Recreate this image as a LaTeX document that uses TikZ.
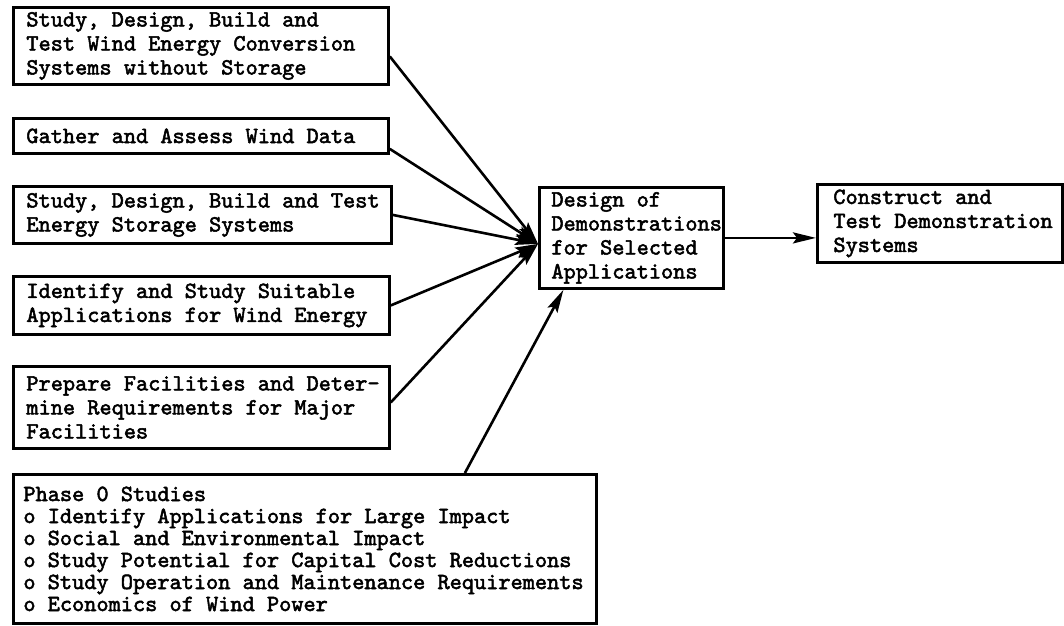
\documentclass[tikz,border=0pt]{standalone}
\usepackage{fontspec}
\newfontfamily\twfont{lmmono10-regular.otf}[FakeBold=2.2]
\usetikzlibrary{arrows.meta}
\newcommand\twsetup[2]{\twfont\fontsize{23.2}{#2}\selectfont
  \spaceskip=12.18pt plus 0pt minus 0pt\xspaceskip=12.18pt plus 0pt minus 0pt
  \baselineskip=#2pt\leftskip=#1\relax}
\newcommand\bxfont[1]{\twsetup{#1}{24}}
\newcommand\pzfont[1]{\twsetup{#1}{22}}
\begin{document}
\begin{tikzpicture}[x=1pt,y=-1pt,
  box/.style={draw, line width=2.8pt, rectangle, anchor=north west, inner sep=0pt, align=left},
  conn/.style={line width=2.6pt, -{Stealth[length=23pt,width=11pt,inset=4pt]}}]
\useasboundingbox[fill=white] (0,0) rectangle (1064,625);
\node[box, text width=375pt, minimum height=77pt] (b1) at (12,6)
  {\bxfont{13pt}Study, Design, Build and\\Test Wind Energy Conversion\\Systems without Storage\par};
\node[box, text width=375pt, minimum height=35pt] (b2) at (12,117)
  {\bxfont{13pt}Gather and Assess Wind Data\par};
\node[box, text width=378pt, minimum height=57pt] (b3) at (12,185)
  {\bxfont{13pt}Study, Design, Build and Test\\Energy Storage Systems\par};
\node[box, text width=376pt, minimum height=58pt] (b4) at (12,275)
  {\bxfont{13pt}Identify and Study Suitable\\Applications for Wind Energy\par};
\node[box, text width=376pt, minimum height=82pt] (b5) at (12,365)
  {\bxfont{13pt}Prepare Facilities and Deter-\\mine Requirements for Major\\Facilities\par};
\node[box, text width=583pt, minimum height=149pt] (b6) at (12,473)
  {\pzfont{10pt}Phase 0 Studies\\o Identify Applications for Large Impact\\o Social and Environmental Impact\\o Study Potential for Capital Cost Reductions\\o Study Operation and Maintenance Requirements\\o Economics of Wind Power\par};
\node[box, text width=184pt, minimum height=101pt] (c) at (538,186)
  {\bxfont{12pt}Design of\\Demonstrations\\for Selected\\Applications\par};
\node[box, text width=245pt, minimum height=78pt] (r) at (816,183)
  {\bxfont{16pt}Construct and\\Test Demonstration\\Systems\par};
\draw[conn] ([yshift=-10.5pt]b1.east) -- ([yshift=-6pt]c.west);
\draw[conn] ([yshift=-13pt]b2.east) -- ([yshift=-6pt]c.west);
\draw[conn] (b3.east) -- ([yshift=-6pt]c.west);
\draw[conn] (b4.east) -- ([yshift=-6pt]c.west);
\draw[conn] ([yshift=5pt]b5.east) -- ([yshift=-6pt]c.west);
\draw[conn] ([xshift=160pt]b6.north) -- ([xshift=-68pt]c.south);
\draw[conn] (c.east) -- (c.east -| r.west);
\end{tikzpicture}
\end{document}
